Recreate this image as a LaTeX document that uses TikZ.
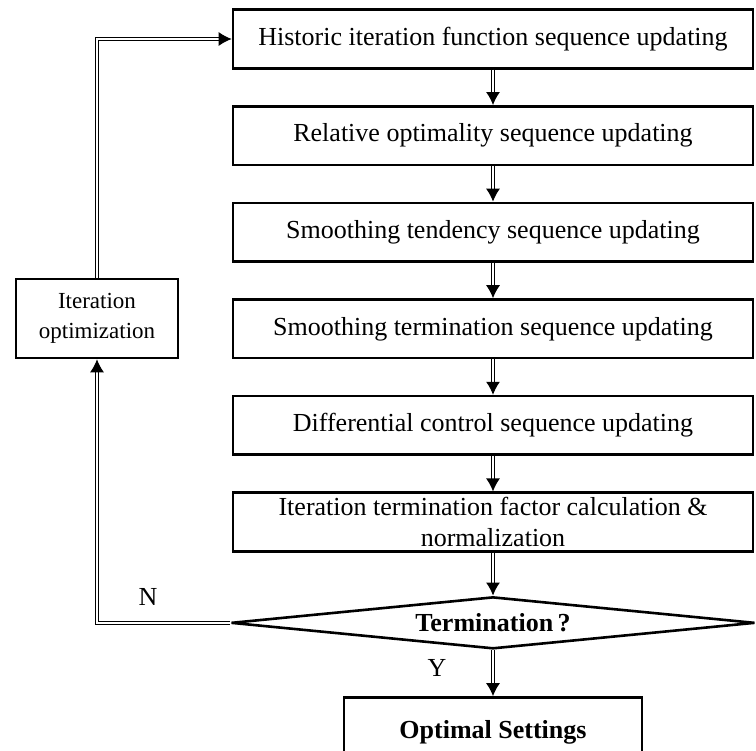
\documentclass[tikz,border=0pt]{standalone}
\usepackage{fontspec}
\setmainfont{Liberation Serif}
\usetikzlibrary{shapes.geometric, arrows.meta, positioning}

\begin{document}
\begin{tikzpicture}[x=1pt, y=-1pt, node distance=35.5pt, font=\fontsize{26}{31}\selectfont,
    stage/.style={draw, rectangle, line width=2.6pt, minimum width=520pt, minimum height=58.5pt, align=center, inner sep=2pt},
    decide/.style={draw, diamond, line width=2.6pt, minimum width=524pt, minimum height=52pt, aspect=10, inner sep=0pt, font=\fontsize{26}{31}\selectfont\bfseries},
    flow/.style={double, double distance=1.6pt, line width=1.2pt, -{Latex[length=13pt, width=14pt]}}]
\useasboundingbox (0,0) rectangle (756,751);

\node[stage] (hist) at (493,39) {Historic iteration function sequence updating};
\node[stage, below=of hist] (relopt) {Relative optimality sequence updating};
\node[stage, below=of relopt] (smtend) {Smoothing tendency sequence updating};
\node[stage, below=of smtend] (smterm) {Smoothing termination sequence updating};
\node[stage, below=of smterm] (diffctl) {Differential control sequence updating};
\node[stage, below=of diffctl] (factor) {Iteration termination factor calculation \&\\normalization};
\node[decide, below=43pt of factor] (term) {Termination\,?};
\node[stage, below=46pt of term, minimum width=298pt, minimum height=70pt, font=\fontsize{26}{31}\selectfont\bfseries] (optset) {Optimal Settings};
\node[stage, minimum width=162pt, minimum height=79pt, font=\fontsize{23}{30}\selectfont] (iteropt) at (97,318.5) {Iteration\\optimization};

\node (nlab) at (148,597) {N};
\node (ylab) at (437,668) {Y};

\draw[flow] (hist) -- (relopt);
\draw[flow] (relopt) -- (smtend);
\draw[flow] (smtend) -- (smterm);
\draw[flow] (smterm) -- (diffctl);
\draw[flow] (diffctl) -- (factor);
\draw[flow] (factor) -- (term);
\draw[flow] (term) -- (optset);
\draw[flow] (term.west) -| (iteropt.south);
\draw[flow] (iteropt.north) |- (hist.west);
\end{tikzpicture}
\end{document}
